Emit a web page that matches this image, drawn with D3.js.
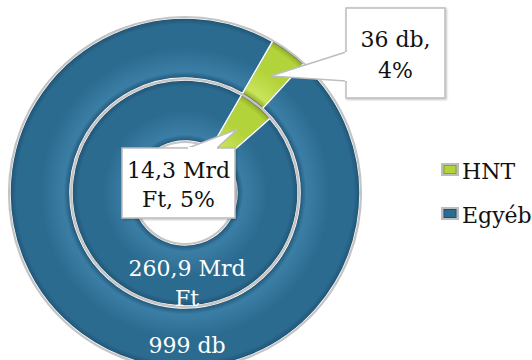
<!DOCTYPE html>
<html>
<head>
<meta charset="utf-8">
<script src="https://cdn.jsdelivr.net/npm/d3@7"></script>
<style>
  body { margin: 0; background: #fff; }
</style>
</head>
<body>
<svg id="chart" width="532" height="360"></svg>
<script>
// data
const categories = ['HNT', 'Egyéb']
const amountValues = [14.3, 260.9]   // Mrd Ft, inner ring
const countValues = [36, 999]        // db, outer ring
const amountLabels = [['14,3 Mrd', 'Ft, 5%'], ['260,9 Mrd', 'Ft']]
const countLabels = [['36 db,', '4%'], ['999 db']]

const colors = {HNT: '#b3d33a', 'Egyéb': '#2c6b90'}
const darks = {HNT: '#86a521', 'Egyéb': '#1d5070'}
const lights = {HNT: '#c9e45a', 'Egyéb': '#3b7ea5'}
const font = '"DejaVu Serif", "Liberation Serif", serif'
const fontSize = 22

const svg = d3.select('#chart')
const cx = 185, cy = 193
const r0 = 51, r1 = 114, r2 = 176
const startA = 30 * Math.PI / 180

const pie = d3.pie().sort(null).value(d => d.value)
  .startAngle(startA).endAngle(startA + 2 * Math.PI)

const defs = svg.append('defs')

// radial gradients give the bevelled look of each ring
function ringGradient (id, key, a, b) {
  const g = defs.append('radialGradient')
    .attr('id', id)
    .attr('gradientUnits', 'userSpaceOnUse')
    .attr('cx', 0).attr('cy', 0).attr('r', b)
  const f = a / b
  const w = (1 - f)
  g.append('stop').attr('offset', f).attr('stop-color', darks[key])
  g.append('stop').attr('offset', f + w * 0.12).attr('stop-color', lights[key])
  g.append('stop').attr('offset', f + w * 0.5).attr('stop-color', colors[key])
  g.append('stop').attr('offset', f + w * 0.88).attr('stop-color', colors[key])
  g.append('stop').attr('offset', 1).attr('stop-color', darks[key])
}
categories.forEach((c, i) => {
  ringGradient('in' + i, c, r0, r1)
  ringGradient('out' + i, c, r1, r2)
})

defs.append('filter').attr('id', 'shadow')
  .append('feDropShadow')
  .attr('dx', 1).attr('dy', 1).attr('stdDeviation', 1)
  .attr('flood-color', '#000').attr('flood-opacity', 0.25)

const g = svg.append('g').attr('transform', 'translate(' + cx + ',' + cy + ')')

const rings = [
  {name: 'in', values: amountValues, inner: r0, outer: r1, labels: amountLabels},
  {name: 'out', values: countValues, inner: r1, outer: r2, labels: countLabels}
]

rings.forEach(ring => {
  const arc = d3.arc().innerRadius(ring.inner + 1).outerRadius(ring.outer - 1)
  const arcs = pie(categories.map((c, i) => ({key: c, value: ring.values[i]})))
  ring.arc = arc
  ring.arcs = arcs

  g.append('g')
    .selectAll('path')
    .data(arcs)
    .enter().append('path')
      .attr('d', arc)
      .attr('fill', (d, i) => 'url(#' + ring.name + i + ')')
      .attr('stroke', (d, i) => i === 0 ? '#6b6b6b' : '#ffffff')
      .attr('stroke-width', 1.5)

  // light grey rims
  ;[ring.inner, ring.outer].forEach(rr => {
    g.append('circle')
      .attr('r', rr)
      .attr('fill', 'none')
      .attr('stroke', '#c4c4c4')
      .attr('stroke-width', 2.2)
  })
})

// white labels of the Egyéb slices
const whiteText = g.append('g')
  .attr('fill', '#ffffff')
  .attr('font-size', fontSize)
  .style('font-family', font)
  .attr('text-anchor', 'middle')

whiteText.append('text')
  .attr('x', 2).attr('y', 83)
  .selectAll('tspan')
  .data(amountLabels[1])
  .enter().append('tspan')
    .attr('x', 2)
    .attr('dy', (d, i) => i === 0 ? 0 : 30)
    .text(d => d)

whiteText.append('text')
  .attr('x', 2).attr('y', 160)
  .text(countLabels[1][0])

// callout boxes of the HNT slices
const callouts = [
  {ring: rings[1], box: [346, 8, 99, 90], base: [[346, 52], [346, 81]], lineY: [47, 78]},
  {ring: rings[0], box: [122, 148, 113, 70], base: [[188, 148], [217, 148]], lineY: [178, 207]}
]

callouts.forEach(c => {
  const tip = c.ring.arc.centroid(c.ring.arcs[0])
  const tx = tip[0] + cx, ty = tip[1] + cy
  const [bx, by, bw, bh] = c.box
  const cg = svg.append('g')

  cg.append('rect')
    .attr('x', bx).attr('y', by)
    .attr('width', bw).attr('height', bh)
    .attr('fill', '#ffffff')
    .attr('stroke', '#bdbdbd')
    .attr('stroke-width', 1.5)
    .attr('filter', 'url(#shadow)')

  cg.append('path')
    .attr('d', 'M' + c.base[0] + 'L' + tx + ',' + ty + 'L' + c.base[1] + 'Z')
    .attr('fill', '#ffffff')
    .attr('stroke', '#bdbdbd')
    .attr('stroke-width', 1.5)
  // cover the join between pointer and box
  cg.append('line')
    .attr('x1', c.base[0][0]).attr('y1', c.base[0][1])
    .attr('x2', c.base[1][0]).attr('y2', c.base[1][1])
    .attr('stroke', '#ffffff')
    .attr('stroke-width', 2)

  cg.append('g')
    .attr('font-size', fontSize)
    .style('font-family', font)
    .attr('fill', '#111')
    .attr('text-anchor', 'middle')
    .selectAll('text')
    .data(c.ring.labels[0])
    .enter().append('text')
      .attr('x', bx + bw / 2)
      .attr('y', (d, i) => c.lineY[i])
      .text(d => d)
})

// legend
const legend = svg.append('g')
  .attr('font-size', fontSize)
  .style('font-family', font)
  .selectAll('g')
  .data(categories)
  .enter().append('g')
    .attr('transform', (d, i) => 'translate(441,' + (163 + i * 44) + ')')

legend.append('rect')
  .attr('width', 18).attr('height', 13)
  .attr('fill', '#bdbdbd')
legend.append('rect')
  .attr('x', 3).attr('y', 2.5)
  .attr('width', 12).attr('height', 8)
  .attr('fill', d => colors[d])
  .attr('stroke', d => darks[d])
  .attr('stroke-width', 1)

legend.append('text')
  .attr('x', 21)
  .attr('y', 16)
  .attr('fill', '#111')
  .text(d => d)
</script>
</body>
</html>
